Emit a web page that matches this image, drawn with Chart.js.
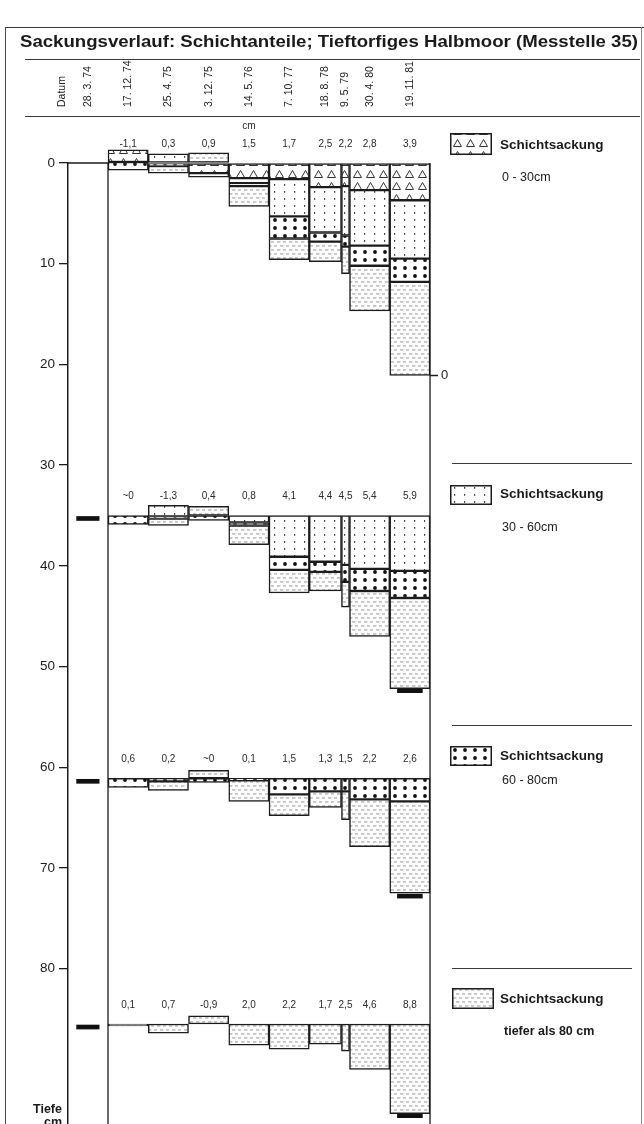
<!DOCTYPE html>
<html><head><meta charset="utf-8">
<script src="https://cdn.jsdelivr.net/npm/chart.js@4.4.1/dist/chart.umd.min.js"></script>
<style>
html,body{margin:0;padding:0;background:#fff;}
#wrap{position:relative;width:644px;height:1124px;overflow:hidden;font-family:"Liberation Sans",Arial,sans-serif;color:#1a1a1a;background:#fff;}
#box{position:absolute;left:0;top:0;width:644px;height:1124px;}
.hl{position:absolute;height:0;border-top:1px solid #3a3a3a;}
.vl{position:absolute;width:0;border-left:1px solid #4a4a4a;}
#title{position:absolute;left:20px;top:32px;font-weight:bold;font-size:17px;white-space:nowrap;transform-origin:0 0;letter-spacing:0;}
.sw{position:absolute;}
.lgt{position:absolute;left:500px;font-weight:bold;font-size:13.5px;white-space:nowrap;line-height:16px;}
.lgr{position:absolute;left:502px;font-size:12.5px;white-space:nowrap;line-height:16px;}
.tf{position:absolute;font-weight:bold;font-size:12.5px;line-height:13px;}
</style></head>
<body><div id="wrap">
<div id="box"><canvas id="cv"></canvas></div>
<div class="hl" style="left:5px;top:27px;width:639px;"></div>
<div class="vl" style="left:5px;top:27px;height:1097px;"></div>
<div class="vl" style="left:641px;top:27px;height:1097px;border-color:#888"></div>
<div id="title">Sackungsverlauf: Schichtanteile; Tieftorfiges Halbmoor (Messtelle 35)</div>
<div class="hl" style="left:25px;top:59px;width:615px;"></div>
<div class="hl" style="left:25px;top:116px;width:615px;"></div>
<div class="hl" style="left:452px;top:463px;width:180px;"></div>
<div class="hl" style="left:452px;top:725px;width:180px;"></div>
<div class="hl" style="left:452px;top:968px;width:180px;"></div>
<canvas class="sw" id="sw0" width="42" height="22" style="left:450px;top:133px"></canvas>
<canvas class="sw" id="sw1" width="42" height="20" style="left:450px;top:485px"></canvas>
<canvas class="sw" id="sw2" width="42" height="20" style="left:450px;top:746px"></canvas>
<canvas class="sw" id="sw3" width="42" height="21" style="left:452px;top:988px"></canvas>
<div class="lgt" style="top:137px">Schichtsackung</div>
<div class="lgr" style="top:169px">0 - 30cm</div>
<div class="lgt" style="top:486px">Schichtsackung</div>
<div class="lgr" style="top:519px">30 - 60cm</div>
<div class="lgt" style="top:748px">Schichtsackung</div>
<div class="lgr" style="top:772px">60 - 80cm</div>
<div class="lgt" style="top:991px">Schichtsackung</div>
<div class="lgr" style="top:1023px;left:504px;font-weight:bold">tiefer als 80 cm</div>
<div class="tf" style="left:33px;top:1103px">Tiefe</div>
<div class="tf" style="left:44px;top:1116px">cm</div>
</div>
<script>
// ================= DATA =================
const headerLabel = 'Datum';
const refDate = '28. 3. 74';
const dates = ['17. 12. 74','25. 4. 75','3. 12. 75','14. 5. 76','7. 10. 77','18. 8. 78','9. 5. 79','30. 4. 80','19. 11. 81'];
const levels = [0, 35, 61.1, 85.5];           // observed depth levels (cm)
const yTicks = [0, 10, 20, 30, 40, 50, 60, 70, 80];

const labels0  = ['-1,1','0,3','0,9','1,5','1,7','2,5','2,2','2,8','3,9'];
const labels35 = ['~0','-1,3','0,4','0,8','4,1','4,4','4,5','5,4','5,9'];
const labels61 = ['0,6','0,2','~0','0,1','1,5','1,3','1,5','2,2','2,6'];
const labels86 = ['0,1','0,7','-0,9','2,0','2,2','1,7','2,5','4,6','8,8'];

// layer segments [top, bottom] in cm depth, one entry per date
const tri0   = [[-1.3,-0.1], null, [0,1.0], [0,1.5], [0,1.6], [0,2.4], [0,2.3], [0,2.7], [0,3.7]];
const dots0  = [null, [-0.9,0], null, [1.5,2.0], [1.6,5.3], [2.4,6.9], [2.3,7.2], [2.7,8.2], [3.7,9.5]];
const big0   = [[-0.1,0.7], [0,0.3], [1.0,1.4], [2.0,2.3], [5.3,7.5], [6.9,7.8], [7.2,8.3], [8.2,10.2], [9.5,11.8]];
const dash0  = [null, [0.3,1.0], [-1.0,0], [2.3,4.3], [7.5,9.6], [7.8,9.8], [8.3,11.0], [10.2,14.7], [11.8,21.1]];

const dots35 = [null, [34.0,35.1], null, [35.0,35.7], [35.0,39.1], [35.0,39.6], [35.0,39.9], [35.0,40.3], [35.0,40.5]];
const big35  = [[35.0,35.9], [35.1,35.3], [35.0,35.5], [35.7,36.0], [39.1,40.4], [39.6,40.6], [39.9,41.6], [40.3,42.5], [40.5,43.2]];
const dash35 = [null, [35.3,36.0], [34.1,35.0], [36.0,37.9], [40.4,42.7], [40.6,42.5], [41.6,44.1], [42.5,47.0], [43.2,52.2]];

const big61  = [[61.1,62.0], [61.1,61.4], [61.1,61.5], [61.1,61.3], [61.1,62.7], [61.1,62.4], [61.1,62.4], [61.1,63.2], [61.1,63.4]];
const dash61 = [null, [61.4,62.3], [60.3,61.1], [61.3,63.4], [62.7,64.8], [62.4,64.0], [62.4,65.2], [63.2,67.9], [63.4,72.5]];

const dash86 = [[85.5,85.7], [85.5,86.4], [84.7,85.5], [85.5,87.6], [85.5,88.0], [85.5,87.5], [85.5,88.2], [85.5,90.0], [85.5,94.4]];

const refMarkers   = [35.3, 61.4, 85.8];
const finalMarkers = [52.4, 72.8, 94.6];
const surfaceFinal = 21.1;

// ================= LAYOUT (not data) =================
const COL_EDGES = [0, 5, 10, 15, 20, 25, 29, 30, 35, 40];  // column edges in slot units
const REF_X = -2.5, REF_W = 2.8, FINAL_W = 3.1, HEADER_X = -5.7, AXIS_X = -4.97;
const X_MIN = -4.97, X_MAX = 66.58, Y_MAX = 95.43;
const LABEL_OFFSET = 1.9;
const INK = '#1c1c1c';

// ================= PATTERNS =================
function tile(w, h, draw) {
  const c = document.createElement('canvas'); c.width = w; c.height = h;
  const g = c.getContext('2d'); g.fillStyle = '#fff'; g.fillRect(0, 0, w, h); draw(g); return c;
}
const tiles = {
  tri: tile(13, 12, g => { g.strokeStyle = '#333'; g.lineWidth = 1; g.beginPath(); g.moveTo(2.5, 9.5); g.lineTo(6.5, 2.5); g.lineTo(10.5, 9.5); g.closePath(); g.stroke(); }),
  dots: tile(10, 7, g => { g.fillStyle = '#3a3a3a'; g.fillRect(4, 2, 1.2, 1.8); }),
  big: tile(10, 8, g => { g.fillStyle = '#111'; g.beginPath(); g.arc(5, 4, 1.9, 0, Math.PI * 2); g.fill(); }),
  dash: tile(12, 8, g => { g.fillStyle = '#8a8a8a'; g.fillRect(1, 1.5, 3.5, 0.9); g.fillRect(7, 1.5, 3, 0.9); g.fillRect(4, 5.5, 3.5, 0.9); g.fillRect(10, 5.5, 2, 0.9); g.fillRect(0, 5.5, 1, 0.9); })
};
const cvs = document.getElementById('cv');
const mainCtx = cvs.getContext('2d');
const pat = {};
for (const k in tiles) pat[k] = mainCtx.createPattern(tiles[k], 'repeat');

['tri', 'dots', 'big', 'dash'].forEach((k, i) => {
  const c = document.getElementById('sw' + i); const g = c.getContext('2d');
  g.fillStyle = g.createPattern(tiles[k], 'repeat');
  if (k === 'tri') { g.save(); g.translate(1, 4); g.fillRect(-1, -4, c.width, c.height); g.restore(); }
  else g.fillRect(0, 0, c.width, c.height);
  g.strokeStyle = INK; g.lineWidth = 1.5; g.strokeRect(0.75, 0.75, c.width - 1.5, c.height - 1.5);
});

// ================= DATASETS =================
const layerSeries = { tri: [tri0], dots: [dots0, dots35], big: [big0, big35, big61], dash: [dash0, dash35, dash61, dash86] };
const colCenter = c => (COL_EDGES[c] + COL_EDGES[c + 1]) / 2;
const common = { stack: 'col', clip: false, borderColor: INK, borderWidth: 1.5, borderSkipped: false, barThickness: 10 };

const datasets = dates.map((d, c) => {
  const data = [];
  for (const layer of Object.keys(layerSeries))
    for (const s of layerSeries[layer]) if (s[c]) data.push({ x: colCenter(c), y: s[c], layer });
  return Object.assign({ label: d, data, _w: COL_EDGES[c + 1] - COL_EDGES[c],
    backgroundColor: ctx => (ctx.raw && pat[ctx.raw.layer]) || '#fff' }, common);
});
datasets.push(Object.assign({}, common, { label: refDate, _w: REF_W, backgroundColor: '#111', borderWidth: 0,
  data: refMarkers.map(v => ({ x: REF_X, y: [v - 0.2, v + 0.2] })) }));
datasets.push(Object.assign({}, common, { label: 'final', _w: FINAL_W, backgroundColor: '#111', borderWidth: 0,
  data: finalMarkers.map(v => ({ x: colCenter(dates.length - 1), y: [v - 0.2, v + 0.2] })) }));

const groupLabels = [labels0, labels35, labels61, labels86];

const decor = {
  id: 'decor',
  beforeDatasetsDraw(chart) {
    const { ctx, scales: { x, y } } = chart;
    ctx.save(); ctx.strokeStyle = INK; ctx.lineWidth = 1.3;
    const last = COL_EDGES[COL_EDGES.length - 1];
    ctx.beginPath();
    ctx.moveTo(x.getPixelForValue(0), y.getPixelForValue(0)); ctx.lineTo(x.getPixelForValue(0), y.getPixelForValue(Y_MAX));
    ctx.moveTo(x.getPixelForValue(last), y.getPixelForValue(0)); ctx.lineTo(x.getPixelForValue(last), y.getPixelForValue(Y_MAX));
    ctx.moveTo(x.getPixelForValue(AXIS_X), y.getPixelForValue(levels[0])); ctx.lineTo(x.getPixelForValue(0), y.getPixelForValue(levels[0]));
    ctx.moveTo(x.getPixelForValue(last), y.getPixelForValue(surfaceFinal)); ctx.lineTo(x.getPixelForValue(last) + 8, y.getPixelForValue(surfaceFinal));
    ctx.stroke(); ctx.restore();
  },
  afterDatasetsDraw(chart) {
    const { ctx, scales: { x, y } } = chart;
    ctx.save(); ctx.fillStyle = '#2a2a2a';
    ctx.font = '10px "Liberation Sans", Arial'; ctx.textAlign = 'center'; ctx.textBaseline = 'middle';
    groupLabels.forEach((arr, g) => {
      arr.forEach((t, c) => ctx.fillText(t, x.getPixelForValue(colCenter(c)), y.getPixelForValue(levels[g] - LABEL_OFFSET)));
    });
    ctx.fillText('cm', x.getPixelForValue(colCenter(3)), y.getPixelForValue(levels[0] - 3.6));
    ctx.font = '13px "Liberation Sans", Arial'; ctx.textAlign = 'left'; ctx.fillStyle = INK;
    ctx.fillText('0', x.getPixelForValue(COL_EDGES[COL_EDGES.length - 1]) + 11, y.getPixelForValue(surfaceFinal));
    // header dates (rotated)
    ctx.font = '10.5px "Liberation Sans", Arial'; ctx.fillStyle = '#222'; ctx.textAlign = 'left';
    const hdr = [[HEADER_X, headerLabel], [REF_X, refDate]].concat(dates.map((d, c) => [colCenter(c), d]));
    hdr.forEach(([v, t]) => {
      ctx.save(); ctx.translate(x.getPixelForValue(v), 107); ctx.rotate(-Math.PI / 2); ctx.fillText(t, 0, 0); ctx.restore();
    });
    ctx.restore();
  }
};

const chart = new Chart(cvs, {
  type: 'bar',
  data: { datasets },
  options: {
    responsive: true, maintainAspectRatio: false, animation: false, events: [],
    layout: { padding: { top: 163, left: 0, right: 0, bottom: 0 } },
    plugins: { legend: { display: false }, tooltip: { enabled: false } },
    scales: {
      x: { type: 'linear', display: false, min: X_MIN, max: X_MAX, offset: false, stacked: true },
      y: {
        type: 'linear', reverse: true, min: 0, max: Y_MAX, stacked: false, position: 'left',
        afterBuildTicks: s => { s.ticks = yTicks.map(v => ({ value: v })); },
        afterFit: s => { s.width = 68; s.paddingTop = 0; s.paddingBottom = 0; },
        ticks: { color: INK, padding: 4, font: { family: 'Liberation Sans', size: 13.5 } },
        grid: { drawOnChartArea: false, drawTicks: true, tickLength: 9, color: INK, lineWidth: 1.3 },
        border: { display: true, color: INK, width: 1.5 }
      }
    }
  },
  plugins: [decor]
});
const xs = chart.scales.x;
chart.data.datasets.forEach(ds => { ds.barThickness = xs.getPixelForValue(ds._w) - xs.getPixelForValue(0); });
chart.update('none');

// fit title width to the frame
const t = document.getElementById('title');
const tw = t.getBoundingClientRect().width;
t.style.transform = 'scaleX(' + (618 / tw) + ')';
</script>
</body></html>
